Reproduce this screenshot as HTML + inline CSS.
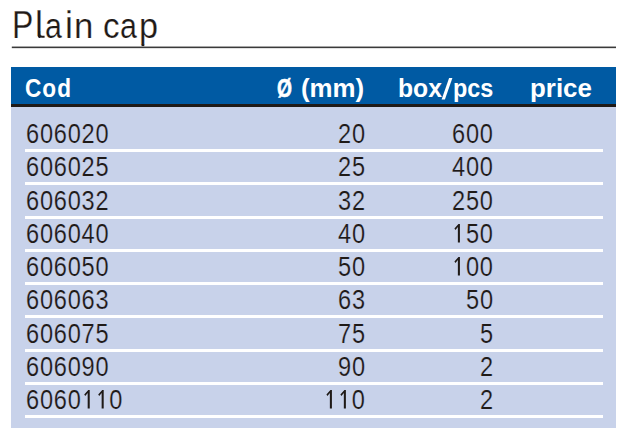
<!DOCTYPE html>
<html>
<head>
<meta charset="utf-8">
<style>
html,body{margin:0;padding:0;}
body{width:642px;height:428px;background:#fff;position:relative;overflow:hidden;font-family:"Liberation Sans",sans-serif;color:#1f1a17;}
.abs{position:absolute;white-space:nowrap;}
.row0{left:0;font-size:0;line-height:0;}
.t{display:inline-block;width:0;position:relative;font-size:38px;line-height:44px;transform-origin:0 34.9px;-webkit-text-stroke:0.25px #fff;}
#rule{left:0;top:0;}
#head{left:11px;top:67px;width:605px;height:38px;background:#005aa3;}
#hline{left:11px;top:104px;width:605px;height:3px;background:#1f1a17;}
#body{left:11px;top:107px;width:605px;height:321px;background:#c8d2ea;}
.h{display:inline-block;width:0;position:relative;color:#fff;font-weight:bold;font-size:26px;line-height:30px;transform-origin:0 0;}
.sep{left:25px;width:578px;height:3px;background:#fff;}
.d{font-size:27px;line-height:30px;letter-spacing:0.9px;-webkit-text-stroke:0.2px #c8d2ea;}
.one{display:inline-block;vertical-align:baseline;fill:#1f1a17;overflow:visible;}
.hid{font-size:0;letter-spacing:0;-webkit-text-stroke:0;color:transparent;}
.dl{left:25.5px;transform:scaleX(0.873);transform-origin:0 0;}
.dr{transform:scaleX(0.873);transform-origin:100% 0;text-align:right;}
.c2{right:275.8px;}
.c3{right:148px;}
</style>
</head>
<body>
<div class="abs row0" style="top:2.8px;"><span class="t" style="left:12.00px;transform:scale(0.8430,1.0000);">P</span><span class="t" style="left:35.00px;transform:scale(0.9400,1.0000);">l</span><span class="t" style="left:45.00px;transform:scale(0.8000,0.9300);">a</span><span class="t" style="left:65.00px;transform:scale(0.9400,1.0000);">i</span><span class="t" style="left:74.00px;transform:scale(0.9150,0.9300);">n</span> <span class="t" style="left:103.00px;transform:scale(0.8710,0.9300);">c</span><span class="t" style="left:120.00px;transform:scale(0.8000,0.9300);">a</span><span class="t" style="left:139.00px;transform:scale(0.9000,0.9300);">p</span></div>
<svg id="rule" class="abs" width="642" height="60"><rect x="11.8" y="46.55" width="604.2" height="1.6" fill="#3a3a3a"/><path d="M39.1 31 L39.1 33.7 Q39.1 36.7 42.2 36.7 L44.6 36.7" stroke="#1f1a17" stroke-width="2.1" fill="none"/><polygon points="36.8,38.6 36.8,35.4 39.4,38.6" fill="#fff"/><rect x="141.55" y="44.5" width="2.75" height="1.6" fill="#1f1a17"/></svg>
<div id="head" class="abs"></div>
<div id="body" class="abs"></div>
<div id="hline" class="abs"></div>
<div class="abs row0" style="top:73.3px;"><span class="h" style="left:25.40px;transform:scaleX(0.8680);letter-spacing:1.2px;">Cod</span></div>
<div class="abs row0" style="top:73.3px;"><span class="h" style="left:276.60px;transform:scaleX(0.7400);letter-spacing:0px;-webkit-text-stroke:0.6px #fff;">Ø</span> <span class="h" style="left:300.80px;transform:scaleX(0.9950);letter-spacing:0px;">(mm)</span></div>
<div class="abs row0" style="top:73.3px;"><span class="h" style="left:398.00px;transform:scaleX(0.9500);letter-spacing:0px;">box</span><span class="hid">/</span><span class="h" style="left:453.30px;transform:scaleX(0.9000);letter-spacing:0px;">pcs</span></div>
<div class="abs row0" style="top:73.3px;"><span class="h" style="left:529.70px;transform:scaleX(0.9960);letter-spacing:0px;">price</span></div>
<svg class="abs" style="left:0;top:0;" width="642" height="428"><polygon points="441.6,99.4 444.9,99.4 452.4,78 449.1,78" fill="#fff"/></svg>
<div class="abs d dl" style="top:119.00px;">606020</div><div class="abs d dr c2" style="top:119.00px;">20</div><div class="abs d dr c3" style="top:119.00px;">600</div><div class="abs sep" style="top:149.00px;"></div>
<div class="abs d dl" style="top:152.26px;">606025</div><div class="abs d dr c2" style="top:152.26px;">25</div><div class="abs d dr c3" style="top:152.26px;">400</div><div class="abs sep" style="top:182.26px;"></div>
<div class="abs d dl" style="top:185.52px;">606032</div><div class="abs d dr c2" style="top:185.52px;">32</div><div class="abs d dr c3" style="top:185.52px;">250</div><div class="abs sep" style="top:215.52px;"></div>
<div class="abs d dl" style="top:218.78px;">606040</div><div class="abs d dr c2" style="top:218.78px;">40</div><div class="abs d dr c3" style="top:218.78px;"><svg class="one" width="15.91" height="18.6" viewBox="0 0 15.91 18.6"><polygon points="9.0,0 9.0,18.6 6.65,18.6 6.65,3.0 3.9,5.9 2.7,4.5 7.3,0"/></svg><span class="hid">1</span>50</div><div class="abs sep" style="top:248.78px;"></div>
<div class="abs d dl" style="top:252.04px;">606050</div><div class="abs d dr c2" style="top:252.04px;">50</div><div class="abs d dr c3" style="top:252.04px;"><svg class="one" width="15.91" height="18.6" viewBox="0 0 15.91 18.6"><polygon points="9.0,0 9.0,18.6 6.65,18.6 6.65,3.0 3.9,5.9 2.7,4.5 7.3,0"/></svg><span class="hid">1</span>00</div><div class="abs sep" style="top:282.04px;"></div>
<div class="abs d dl" style="top:285.30px;">606063</div><div class="abs d dr c2" style="top:285.30px;">63</div><div class="abs d dr c3" style="top:285.30px;">50</div><div class="abs sep" style="top:315.30px;"></div>
<div class="abs d dl" style="top:318.56px;">606075</div><div class="abs d dr c2" style="top:318.56px;">75</div><div class="abs d dr c3" style="top:318.56px;">5</div><div class="abs sep" style="top:348.56px;"></div>
<div class="abs d dl" style="top:351.82px;">606090</div><div class="abs d dr c2" style="top:351.82px;">90</div><div class="abs d dr c3" style="top:351.82px;">2</div><div class="abs sep" style="top:381.82px;"></div>
<div class="abs d dl" style="top:385.08px;">6060<svg class="one" width="15.91" height="18.6" viewBox="0 0 15.91 18.6"><polygon points="9.0,0 9.0,18.6 6.65,18.6 6.65,3.0 3.9,5.9 2.7,4.5 7.3,0"/></svg><span class="hid">1</span><svg class="one" width="15.91" height="18.6" viewBox="0 0 15.91 18.6"><polygon points="9.0,0 9.0,18.6 6.65,18.6 6.65,3.0 3.9,5.9 2.7,4.5 7.3,0"/></svg><span class="hid">1</span>0</div><div class="abs d dr c2" style="top:385.08px;"><svg class="one" width="15.91" height="18.6" viewBox="0 0 15.91 18.6"><polygon points="9.0,0 9.0,18.6 6.65,18.6 6.65,3.0 3.9,5.9 2.7,4.5 7.3,0"/></svg><span class="hid">1</span><svg class="one" width="15.91" height="18.6" viewBox="0 0 15.91 18.6"><polygon points="9.0,0 9.0,18.6 6.65,18.6 6.65,3.0 3.9,5.9 2.7,4.5 7.3,0"/></svg><span class="hid">1</span>0</div><div class="abs d dr c3" style="top:385.08px;">2</div><div class="abs sep" style="top:415.08px;"></div>
</body>
</html>
